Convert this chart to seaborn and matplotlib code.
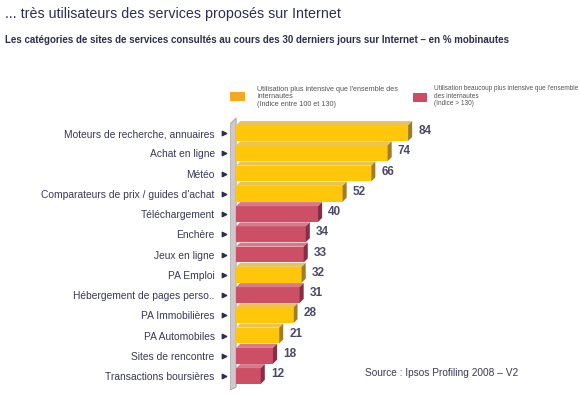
import matplotlib
matplotlib.use("Agg")
import matplotlib.pyplot as plt
from matplotlib.patches import Polygon, Rectangle
import matplotlib.transforms as mtransforms
import pandas as pd
import seaborn as sns

# ── données ────────────────────────────────────────────────────────────────
categories = [
    "Moteurs de recherche, annuaires",
    "Achat en ligne",
    "Météo",
    "Comparateurs de prix / guides d'achat",
    "Téléchargement",
    "Enchère",
    "Jeux en ligne",
    "PA Emploi",
    "Hébergement de pages perso..",
    "PA Immobilières",
    "PA Automobiles",
    "Sites de rencontre",
    "Transactions boursières",
]
values = [84, 74, 66, 52, 40, 34, 33, 32, 31, 28, 21, 18, 12]
groups = ["plus", "plus", "plus", "plus", "beaucoup", "beaucoup", "beaucoup",
          "plus", "beaucoup", "plus", "plus", "beaucoup", "beaucoup"]

legend_plus = "Utilisation plus intensive que l'ensemble des\ninternautes\n(Indice entre 100 et 130)"
legend_beaucoup = "Utilisation beaucoup plus intensive que l'ensemble\ndes internautes\n(Indice > 130)"

FRONT = {"plus": "#FFC60A", "beaucoup": "#CD4F66"}
TOP = {"plus": "#E8C458", "beaucoup": "#D97A8B"}
SIDE = {"plus": "#A07C28", "beaucoup": "#862F43"}
TXT = "#2E2E50"

sns.set_theme(style="white")
plt.rcParams["font.family"] = ["Liberation Sans", "DejaVu Sans"]

df = pd.DataFrame({"cat": categories, "val": values, "grp": groups})

W, H = 580, 396
fig = plt.figure(figsize=(W / 100, H / 100), dpi=100)
ax = fig.add_axes([230 / W, 1 - 390 / H, 350 / W, (390 - 113) / H])

sns.barplot(data=df, y="cat", x="val", hue="grp", palette=FRONT, dodge=False,
            saturation=1, width=0.78, legend=False, ax=ax, order=categories, linewidth=0)

ax.set_xlim(-3, 168)
ax.set_ylim(12.69, -0.99)

# effet 3D : dessus et côté de chaque barre
dx, dy = 2.0, 0.2
for p in ax.patches:
    w = p.get_width()
    if w <= 0:
        continue
    x0, y0, h = p.get_x(), p.get_y(), p.get_height()
    x1 = x0 + w
    grp = groups[int(round(y0 + h / 2))]
    ax.add_patch(Polygon([(x0, y0), (x1, y0), (x1 + dx, y0 - dy), (x0 + dx, y0 - dy)],
                         closed=True, fc=TOP[grp], ec="none"))
    ax.add_patch(Polygon([(x1, y0), (x1 + dx, y0 - dy), (x1 + dx, y0 + h - dy), (x1, y0 + h)],
                         closed=True, fc=SIDE[grp], ec="none"))
    ax.text(x1 + dx + 3, y0 + h / 2 - dy / 2, f"{int(w)}", va="center", ha="left",
            fontsize=8.5, fontweight="bold", color="#4A4A68")

# mur gris à gauche
ax.add_patch(Polygon([(-3, -0.45), (0, -0.75), (0, 12.55), (-3, 12.69)], closed=True,
                     fc="#CFC8C8", ec="#A8A0A0", lw=0.6, zorder=0.5))

ax.set_xlabel("")
ax.set_ylabel("")
ax.set_xticks([])
ax.tick_params(axis="y", length=0, pad=11, labelsize=7.4, labelcolor="#3A3A55")
for s in ax.spines.values():
    s.set_visible(False)

# petits triangles devant les barres
trans = mtransforms.blended_transform_factory(fig.transFigure, ax.transData)
ax.scatter([224 / W] * len(categories), range(len(categories)), marker=">", s=10,
           color="#2E2E50", transform=trans, clip_on=False)

# titres
fig.text(5 / W, 1 - 14 / H, "... très utilisateurs des services proposés sur Internet",
         fontsize=10.3, color=TXT, va="center", ha="left")
fig.text(5 / W, 1 - 40 / H,
         "Les catégories de sites de services consultés au cours des 30 derniers jours sur Internet – en % mobinautes",
         fontsize=7.0, fontweight="bold", color=TXT, va="center", ha="left")

# légende
fig.patches.append(Rectangle((230 / W, 1 - 101 / H), 15 / W, 9 / H, transform=fig.transFigure,
                             fc="#F7A823", ec="none"))
fig.text(257 / W, 1 - 97 / H, legend_plus, fontsize=5.2, color="#555555",
         va="center", ha="left", linespacing=1.15)
fig.patches.append(Rectangle((413 / W, 1 - 102 / H), 14 / W, 9 / H, transform=fig.transFigure,
                             fc="#CC4C64", ec="none"))
fig.text(434 / W, 1 - 96 / H, legend_beaucoup, fontsize=4.7, color="#555555",
         va="center", ha="left", linespacing=1.15)

fig.text(365 / W, 1 - 373 / H, "Source : Ipsos Profiling 2008 – V2",
         fontsize=7.3, color="#3A3A50", va="center", ha="left")

fig.savefig("out.png", dpi=100)
